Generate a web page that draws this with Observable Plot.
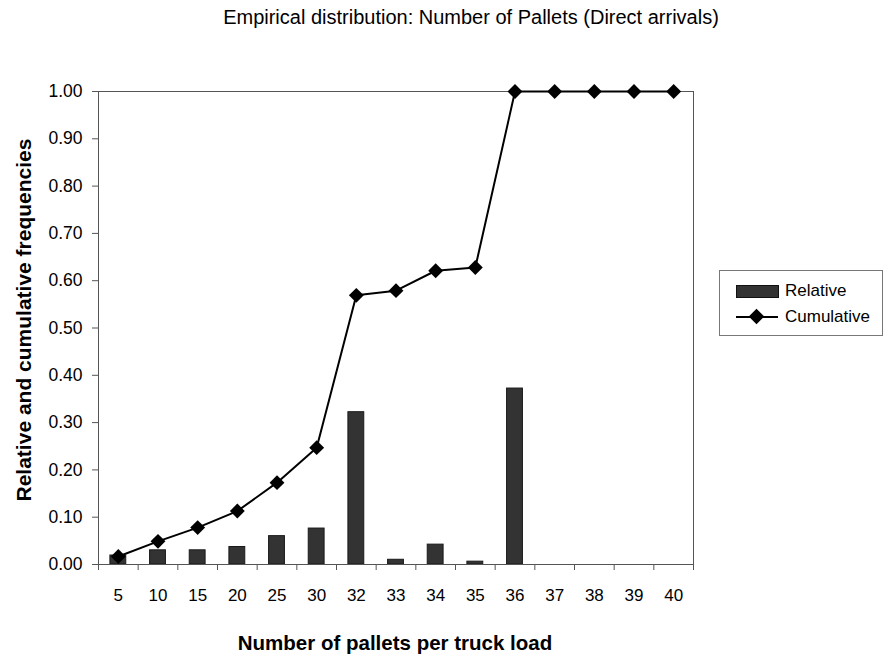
<!DOCTYPE html>
<html><head><meta charset="utf-8">
<script src="https://cdn.jsdelivr.net/npm/d3@7"></script>
<script src="https://cdn.jsdelivr.net/npm/@observablehq/plot@0.6"></script>
<style>
body{margin:0;background:#fff;font-family:"Liberation Sans",Arial,sans-serif;color:#000}
#wrap{position:relative;width:884px;height:659px;overflow:hidden}
.lbl{position:absolute;white-space:nowrap;text-align:center;height:24px;line-height:24px}
#title{left:171px;width:600px;top:5px;font-size:20px}
#xlab{left:95px;width:600px;top:631px;font-size:20.5px;font-weight:bold}
#ylab{left:-226px;width:500px;top:308px;font-size:21px;font-weight:bold;transform:rotate(-90deg);transform-origin:center}
#legend{position:absolute;left:719px;top:270px;width:162px;height:64px;border:1px solid #777;background:#fff;font-size:17px}
.row{position:absolute;left:16px;height:20px;line-height:20px}
.row span{position:absolute;left:49px;top:0;white-space:nowrap}
.sw{position:absolute;left:0;top:4px;width:41px;height:11px;background:#333;border:1px solid #111}
.ln{position:absolute;left:0;top:9px;width:42px;height:2px;background:#000}
.dm{position:absolute;left:15px;top:4px;width:11px;height:11px;background:#000;transform:rotate(45deg)}
</style>
</head><body>
<div id="wrap">
<div id="chart"></div>
<div id="title" class="lbl">Empirical distribution: Number of Pallets (Direct arrivals)</div>
<div id="ylab" class="lbl">Relative and cumulative frequencies</div>
<div id="xlab" class="lbl">Number of pallets per truck load</div>
<div id="legend">
  <div class="row" style="top:10px"><div class="sw"></div><span>Relative</span></div>
  <div class="row" style="top:36px"><div class="ln"></div><div class="dm"></div><span>Cumulative</span></div>
</div>
</div>
<script>
const categories = ["5","10","15","20","25","30","32","33","34","35","36","37","38","39","40"];
const relative = [0.019,0.030,0.030,0.037,0.060,0.076,0.322,0.010,0.042,0.006,0.372,0,0,0,0];
const cumulative = [0.017,0.049,0.078,0.113,0.173,0.247,0.569,0.579,0.621,0.628,1.0,1.0,1.0,1.0,1.0];
const yTicks = [0,0.1,0.2,0.3,0.4,0.5,0.6,0.7,0.8,0.9,1.0];

const data = categories.map((c,i)=>({i, cat:c, rel:relative[i], cum:cumulative[i]}));
const boundaries = d3.range(categories.length+1).map(k=>k-0.5);
const halfBar = 0.2;

const chart = Plot.plot({
  width: 884, height: 659,
  marginLeft: 98, marginRight: 191, marginTop: 91, marginBottom: 95,
  style: {fontFamily: '"Liberation Sans", Arial, sans-serif', color: "#000", background: "#fff"},
  x: {type: "linear", domain: [-0.5, categories.length-0.5]},
  y: {domain: [0,1]},
  marks: [
    Plot.rectY(data.filter(d=>d.rel>0), {x1: d=>d.i-halfBar, x2: d=>d.i+halfBar, y1: 0, y2: "rel", fill: "#333", stroke: "#1a1a1a", strokeWidth: 1}),
    Plot.frame({stroke: "#555", strokeWidth: 1}),
    Plot.axisY({ticks: yTicks, tickFormat: d=>d.toFixed(2), tickSize: 6, tickPadding: 10, fontSize: 17.5, label: null, stroke:"#555"}),
    Plot.axisX({ticks: boundaries, tickFormat: ()=>"", tickSize: 6, label: null, stroke:"#555"}),
    Plot.axisX({ticks: d3.range(categories.length), tickFormat: i=>categories[i], tickSize: 0, tickPadding: 24, fontSize: 17, label: null}),
    Plot.line(data, {x: "i", y: "cum", stroke: "#000", strokeWidth: 2}),
    Plot.dot(data, {x: "i", y: "cum", symbol: "diamond2", r: 6.7, fill: "#000", stroke: "none"})
  ]
});
document.getElementById("chart").appendChild(chart);
</script>
</body></html>
